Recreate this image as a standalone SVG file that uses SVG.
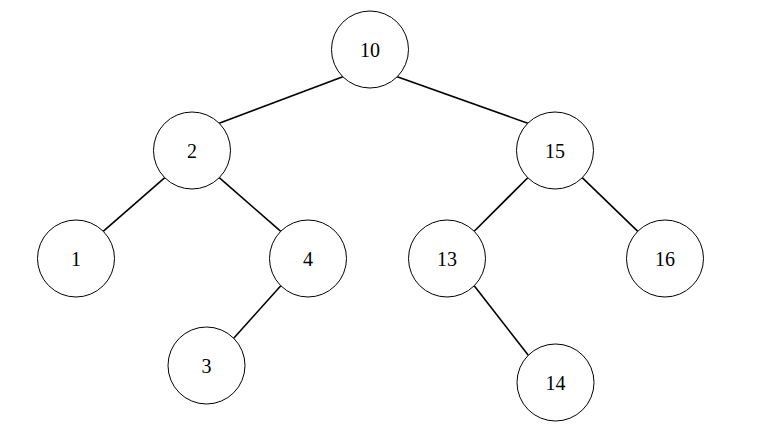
<svg xmlns="http://www.w3.org/2000/svg" width="770" height="437" viewBox="0 0 770 437">
<style>
.n circle{fill:#fff;stroke:#000;stroke-width:1}
.n text{font-family:"Liberation Serif",serif;font-size:20px;text-anchor:middle;fill:#000}
#edges line{stroke:#000;stroke-width:1.6}
</style>
<rect width="770" height="437" fill="#fff"/>
<g id="edges">
<line x1="342.8" y1="76.7" x2="219.2" y2="123.3"/>
<line x1="397.2" y1="76.7" x2="527.8" y2="123.3"/>
<line x1="164.8" y1="177.7" x2="103.2" y2="231.3"/>
<line x1="219.2" y1="177.7" x2="280.8" y2="231.3"/>
<line x1="280.8" y1="285.7" x2="233.7" y2="338.3"/>
<line x1="527.8" y1="177.7" x2="474.2" y2="231.3"/>
<line x1="582.2" y1="177.7" x2="637.8" y2="231.3"/>
<line x1="474.2" y1="285.7" x2="528.3" y2="355.3"/>
</g>
<g id="n10" class="n"><circle cx="370" cy="49.5" r="38.5"/><text x="370" y="56.5">10</text></g>
<g id="n2" class="n"><circle cx="192" cy="150.5" r="38.5"/><text x="192" y="157.5">2</text></g>
<g id="n15" class="n"><circle cx="555" cy="150.5" r="38.5"/><text x="555" y="157.5">15</text></g>
<g id="n1" class="n"><circle cx="76" cy="258.5" r="38.5"/><text x="76" y="265.5">1</text></g>
<g id="n4" class="n"><circle cx="308" cy="258.5" r="38.5"/><text x="308" y="265.5">4</text></g>
<g id="n13" class="n"><circle cx="447" cy="258.5" r="38.5"/><text x="447" y="265.5">13</text></g>
<g id="n16" class="n"><circle cx="665" cy="258.5" r="38.5"/><text x="665" y="265.5">16</text></g>
<g id="n3" class="n"><circle cx="206.5" cy="365.5" r="38.5"/><text x="206.5" y="372.5">3</text></g>
<g id="n14" class="n"><circle cx="555.5" cy="382.5" r="38.5"/><text x="555.5" y="389.5">14</text></g>
</svg>
